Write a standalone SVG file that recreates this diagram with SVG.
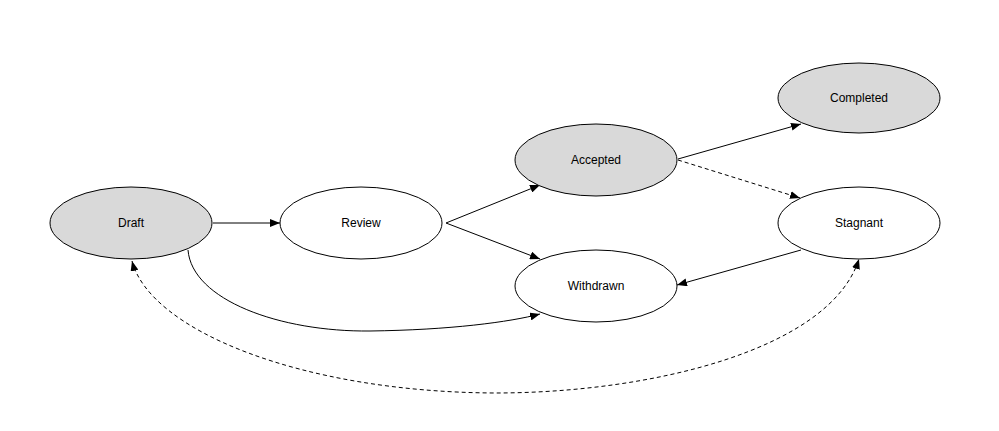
<svg xmlns="http://www.w3.org/2000/svg" width="999" height="431" viewBox="0 0 999 431">
<style>
.n ellipse{stroke:#000;stroke-width:1}
.g ellipse{fill:#d9d9d9}
.w ellipse{fill:#fff}
.n text{font-family:"Liberation Sans",Arial,sans-serif;font-size:12px;fill:#000;text-anchor:middle;dominant-baseline:central}
.e{fill:none;stroke:#000;stroke-width:1}
.d{stroke-dasharray:4,3}
</style>
<defs>
<marker id="a" viewBox="0 0 10 8" refX="10" refY="4" markerWidth="10" markerHeight="8" markerUnits="userSpaceOnUse" orient="auto-start-reverse">
<path d="M0,0L10,4L0,8z" fill="#000"/>
</marker>
</defs>
<rect width="999" height="431" fill="#fff"/>
<g id="edges">
<path class="e" d="M213,223L280,223" marker-end="url(#a)"/>
<path class="e" d="M446,223L540,185" marker-end="url(#a)"/>
<path class="e" d="M446,223L540,259" marker-end="url(#a)"/>
<path class="e" d="M678,159L801,124" marker-end="url(#a)"/>
<path class="e d" d="M678,160L800,198" marker-end="url(#a)"/>
<path class="e" d="M801,250L677,285" marker-end="url(#a)"/>
<path class="e" d="M188,250C192,300 280,332 370,331C450,330 510,322 540,314" marker-end="url(#a)"/>
<path class="e d" d="M132,261C150,330 300,392 495,393C650,393 830,350 859,259" marker-start="url(#a)" marker-end="url(#a)"/>
</g>
<g id="draft" class="n g"><ellipse cx="131" cy="223" rx="81" ry="36"/><text x="131" y="223">Draft</text></g>
<g id="review" class="n w"><ellipse cx="361" cy="223" rx="81" ry="36"/><text x="361" y="223">Review</text></g>
<g id="accepted" class="n g"><ellipse cx="596" cy="160" rx="81" ry="36"/><text x="596" y="160">Accepted</text></g>
<g id="withdrawn" class="n w"><ellipse cx="596" cy="286" rx="81" ry="36"/><text x="596" y="286">Withdrawn</text></g>
<g id="completed" class="n g"><ellipse cx="859" cy="98" rx="81" ry="35"/><text x="859" y="98">Completed</text></g>
<g id="stagnant" class="n w"><ellipse cx="859" cy="223" rx="81" ry="36"/><text x="859" y="223">Stagnant</text></g>
</svg>
